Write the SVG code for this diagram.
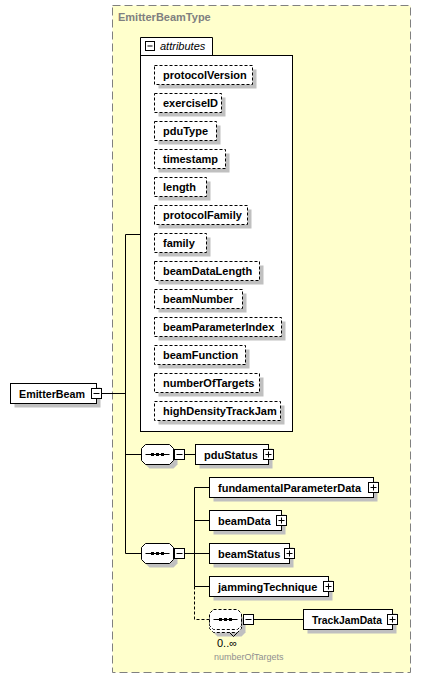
<svg xmlns="http://www.w3.org/2000/svg" xmlns:xlink="http://www.w3.org/1999/xlink" width="423" height="682" viewBox="0 0 423 682">
<style>
.sh{fill:#c0c0c0;stroke:none}
.box{fill:#fff;stroke:#000;stroke-width:1}
.attr{fill:#fff;stroke:#000;stroke-width:1;stroke-dasharray:3,2}
.t{font-family:"Liberation Sans",Arial,sans-serif;font-size:11px;font-weight:bold;fill:#000}
.ln{stroke:#000;stroke-width:1;fill:none}
.dl{stroke:#000;stroke-width:1;fill:none;stroke-dasharray:3,2}
.ic{fill:#fff;stroke:#000;stroke-width:1}
</style>
<defs>
<g id="plus"><rect class="ic" x="0" y="0" width="10" height="10"/><path class="ln" d="M2,5H8M5,2V8"/></g>
<g id="minus"><rect class="ic" x="0" y="0" width="10" height="10"/><path class="ln" d="M2,5H8"/></g>
<polygon id="oct" points="4,0 28,0 32,4 32,16 28,20 4,20 0,16 0,4"/>
<g id="seqin"><path class="ln" d="M4,10H28"/><rect x="9.5" y="8.5" width="3" height="3" fill="#000"/><rect x="14.5" y="8.5" width="3" height="3" fill="#000"/><rect x="19.5" y="8.5" width="3" height="3" fill="#000"/></g>
<g id="seq"><use xlink:href="#oct" transform="translate(4,4)" class="sh"/><use xlink:href="#oct" class="box"/><use xlink:href="#seqin"/></g>
</defs>

<g id="complexType">
<rect x="112.5" y="5.5" width="298" height="667" fill="#ffffcc" stroke="#808080" stroke-width="1" stroke-dasharray="8,4"/>
<text x="118" y="21" class="t" style="fill:#808080">EmitterBeamType</text>
</g>

<g id="connectors">
<path class="ln" d="M101.5,393.5H125.5M125.5,234.5V553.5M125.5,234.5H140.5M125.5,454.5H141.5M125.5,553.5H141.5"/>
<path class="ln" d="M184.5,454.5H195.5M184.5,553.5H194.5M194.5,487.5V586.5M194.5,487.5H209.5M194.5,520.5H209.5M194.5,553.5H209.5M194.5,586.5H209.5M253.5,619.5H303.5"/>
<path class="dl" d="M194.5,586.5V619.5H209.5"/>
</g>

<g id="EmitterBeam">
<rect class="sh" x="14.5" y="387.5" width="86" height="20"/>
<rect class="box" x="10.5" y="383.5" width="86" height="20"/>
<text x="19" y="398" class="t" textLength="66" lengthAdjust="spacingAndGlyphs">EmitterBeam</text>
<use xlink:href="#minus" x="91.5" y="388.5"/>
</g>

<g id="attributes">
<path d="M140.5,55.5V37.5H212.5V55.5" class="box"/>
<rect class="box" x="140.5" y="55.5" width="152" height="376"/>
<rect class="ic" x="145.5" y="41.5" width="9" height="9"/><path class="ln" d="M147.5,46H152.5"/>
<text x="160" y="50" style="font-family:'Liberation Sans',Arial,sans-serif;font-size:11px;font-style:italic;fill:#000">attributes</text>
</g>

<g id="attr_protocolVersion"><rect class="sh" x="158.5" y="69.5" width="98" height="19"/><rect class="attr" x="154.5" y="65.5" width="98" height="19"/><text x="163" y="79" class="t">protocolVersion</text></g>
<g id="attr_exerciseID"><rect class="sh" x="158.5" y="97.5" width="67" height="19"/><rect class="attr" x="154.5" y="93.5" width="67" height="19"/><text x="163" y="107" class="t">exerciseID</text></g>
<g id="attr_pduType"><rect class="sh" x="158.5" y="125.5" width="62" height="19"/><rect class="attr" x="154.5" y="121.5" width="62" height="19"/><text x="163" y="135" class="t">pduType</text></g>
<g id="attr_timestamp"><rect class="sh" x="158.5" y="153.5" width="71" height="19"/><rect class="attr" x="154.5" y="149.5" width="71" height="19"/><text x="163" y="163" class="t">timestamp</text></g>
<g id="attr_length"><rect class="sh" x="158.5" y="181.5" width="52" height="19"/><rect class="attr" x="154.5" y="177.5" width="52" height="19"/><text x="163" y="191" class="t">length</text></g>
<g id="attr_protocolFamily"><rect class="sh" x="158.5" y="209.5" width="93" height="19"/><rect class="attr" x="154.5" y="205.5" width="93" height="19"/><text x="163" y="219" class="t">protocolFamily</text></g>
<g id="attr_family"><rect class="sh" x="158.5" y="237.5" width="52" height="19"/><rect class="attr" x="154.5" y="233.5" width="52" height="19"/><text x="163" y="247" class="t">family</text></g>
<g id="attr_beamDataLength"><rect class="sh" x="158.5" y="265.5" width="105" height="19"/><rect class="attr" x="154.5" y="261.5" width="105" height="19"/><text x="163" y="275" class="t">beamDataLength</text></g>
<g id="attr_beamNumber"><rect class="sh" x="158.5" y="293.5" width="88" height="19"/><rect class="attr" x="154.5" y="289.5" width="88" height="19"/><text x="163" y="303" class="t">beamNumber</text></g>
<g id="attr_beamParameterIndex"><rect class="sh" x="158.5" y="321.5" width="127" height="19"/><rect class="attr" x="154.5" y="317.5" width="127" height="19"/><text x="163" y="331" class="t">beamParameterIndex</text></g>
<g id="attr_beamFunction"><rect class="sh" x="158.5" y="349.5" width="91" height="19"/><rect class="attr" x="154.5" y="345.5" width="91" height="19"/><text x="163" y="359" class="t">beamFunction</text></g>
<g id="attr_numberOfTargets"><rect class="sh" x="158.5" y="377.5" width="105" height="19"/><rect class="attr" x="154.5" y="373.5" width="105" height="19"/><text x="163" y="387" class="t">numberOfTargets</text></g>
<g id="attr_highDensityTrackJam"><rect class="sh" x="158.5" y="405.5" width="126" height="19"/><rect class="attr" x="154.5" y="401.5" width="126" height="19"/><text x="163" y="415" class="t">highDensityTrackJam</text></g>

<g id="sequence1"><use xlink:href="#seq" x="141.5" y="444.5"/><use xlink:href="#minus" x="174.5" y="449.5"/></g>

<g id="pduStatus">
<rect class="sh" x="199.5" y="448.5" width="73" height="20"/>
<rect class="box" x="195.5" y="444.5" width="73" height="20"/>
<text x="204" y="459" class="t">pduStatus</text>
<use xlink:href="#plus" x="263.5" y="449.5"/>
</g>

<g id="sequence2"><use xlink:href="#seq" x="141.5" y="543.5"/><use xlink:href="#minus" x="174.5" y="548.5"/></g>

<g id="fundamentalParameterData">
<rect class="sh" x="213.5" y="481.5" width="164" height="20"/>
<rect class="box" x="209.5" y="477.5" width="164" height="20"/>
<text x="218" y="492" class="t">fundamentalParameterData</text>
<use xlink:href="#plus" x="368.5" y="482.5"/>
</g>
<g id="beamData">
<rect class="sh" x="213.5" y="514.5" width="72" height="20"/>
<rect class="box" x="209.5" y="510.5" width="72" height="20"/>
<text x="218" y="525" class="t">beamData</text>
<use xlink:href="#plus" x="276.5" y="515.5"/>
</g>
<g id="beamStatus">
<rect class="sh" x="213.5" y="547.5" width="80" height="20"/>
<rect class="box" x="209.5" y="543.5" width="80" height="20"/>
<text x="218" y="558" class="t">beamStatus</text>
<use xlink:href="#plus" x="284.5" y="548.5"/>
</g>
<g id="jammingTechnique">
<rect class="sh" x="213.5" y="580.5" width="119" height="20"/>
<rect class="box" x="209.5" y="576.5" width="119" height="20"/>
<text x="218" y="591" class="t">jammingTechnique</text>
<use xlink:href="#plus" x="323.5" y="581.5"/>
</g>

<g id="sequence3">
<use xlink:href="#oct" transform="translate(213.5,616.5)" class="sh"/>
<use xlink:href="#oct" transform="translate(209.5,612.5)" class="attr"/>
<path class="ln" d="M229.5,632.5L233.5,636.5L237.5,632.5"/>
<use xlink:href="#oct" transform="translate(209.5,609.5)" class="attr"/>
<use xlink:href="#seqin" transform="translate(209.5,609.5)"/>
<use xlink:href="#minus" x="243.5" y="614.5"/>
<text x="217" y="647" style="font-family:'Liberation Sans',Arial,sans-serif;font-size:11px;fill:#000">0..∞</text>
<text x="214" y="660" style="font-family:'Liberation Sans',Arial,sans-serif;font-size:9px;fill:#909090">numberOfTargets</text>
</g>

<g id="TrackJamData">
<rect class="sh" x="307.5" y="613.5" width="89" height="20"/>
<rect class="box" x="303.5" y="609.5" width="89" height="20"/>
<text x="312" y="624" class="t" textLength="70" lengthAdjust="spacingAndGlyphs">TrackJamData</text>
<use xlink:href="#plus" x="387.5" y="614.5"/>
</g>
</svg>
